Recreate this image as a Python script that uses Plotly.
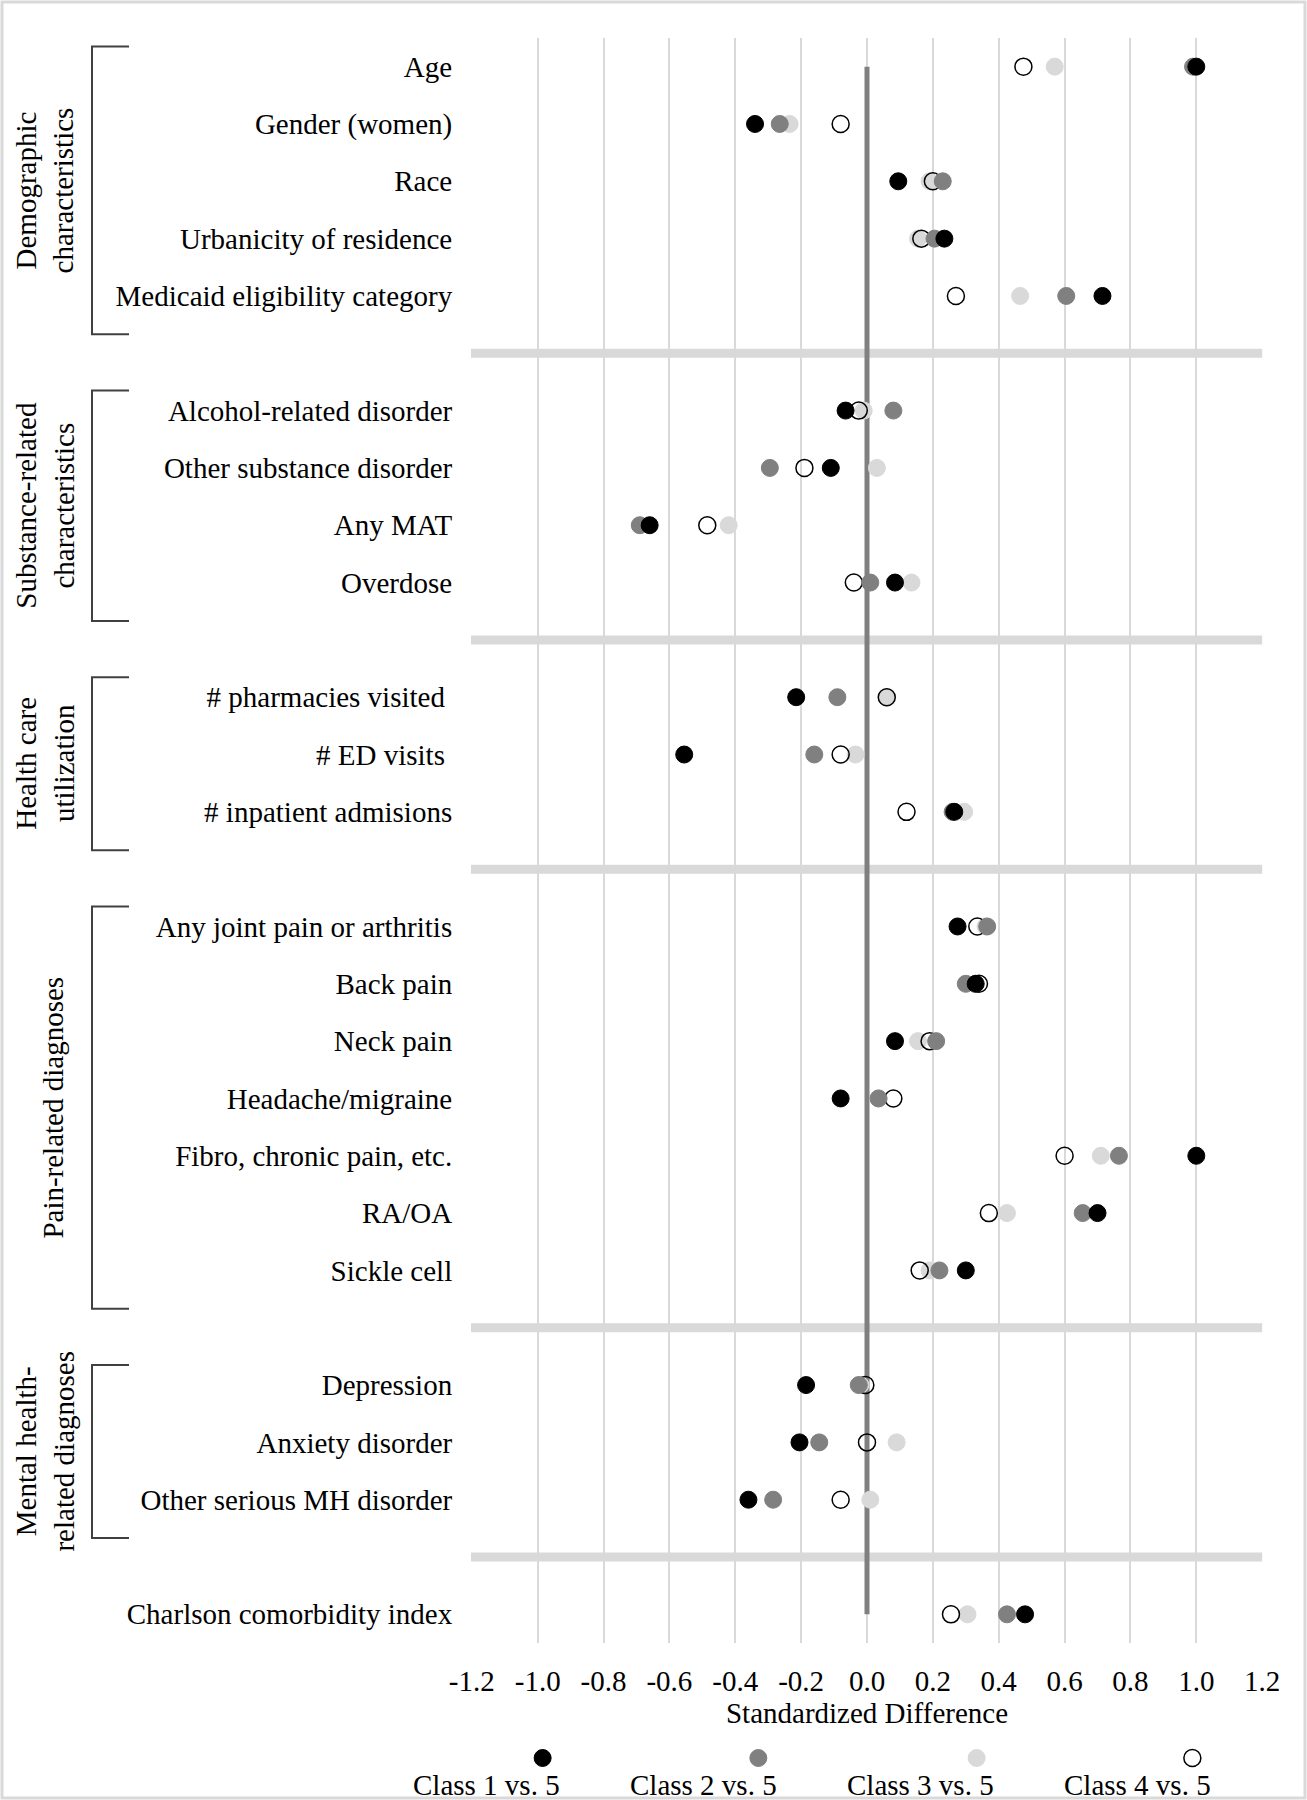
import plotly.graph_objects as go

# rows, grouped the way the figure groups them
demographic = ["Age", "Gender (women)", "Race", "Urbanicity of residence",
               "Medicaid eligibility category"]
substance = ["Alcohol-related disorder", "Other substance disorder", "Any MAT", "Overdose"]
utilization = ["# pharmacies visited\u00a0", "# ED visits\u00a0", "# inpatient admisions"]
pain = ["Any joint pain or arthritis", "Back pain", "Neck pain", "Headache/migraine",
        "Fibro, chronic pain, etc.", "RA/OA", "Sickle cell"]
mental = ["Depression", "Anxiety disorder", "Other serious MH disorder"]
other = ["Charlson comorbidity index"]

group_names = ["Demographic<br>characteristics", "Substance-related<br>characteristics",
               "Health care<br>utilization", "Pain-related diagnoses",
               "Mental health-<br>related diagnoses", None]

# standardized differences, one value per row (same order as above)
class1 = [1.00, -0.34, 0.095, 0.235, 0.715,
          -0.065, -0.11, -0.66, 0.085,
          -0.215, -0.555, 0.265,
          0.275, 0.33, 0.085, -0.08, 1.00, 0.70, 0.30,
          -0.185, -0.205, -0.36,
          0.48]
class2 = [0.99, -0.265, 0.23, 0.205, 0.605,
          0.08, -0.295, -0.69, 0.01,
          -0.09, -0.16, 0.26,
          0.365, 0.30, 0.21, 0.035, 0.765, 0.655, 0.22,
          -0.025, -0.145, -0.285,
          0.425]
class3 = [0.57, -0.235, 0.19, 0.155, 0.465,
          -0.01, 0.03, -0.42, 0.135,
          0.06, -0.035, 0.295,
          0.36, 0.33, 0.155, 0.035, 0.71, 0.425, 0.19,
          -0.02, 0.09, 0.01,
          0.305]
class4 = [0.475, -0.08, 0.20, 0.165, 0.27,
          -0.025, -0.19, -0.485, -0.04,
          0.06, -0.08, 0.12,
          0.335, 0.34, 0.19, 0.08, 0.60, 0.37, 0.16,
          -0.005, 0.0, -0.08,
          0.255]

series_names = ["Class 1 vs. 5", "Class 2 vs. 5", "Class 3 vs. 5", "Class 4 vs. 5"]
x_ticks = [-1.2, -1.0, -0.8, -0.6, -0.4, -0.2, 0.0, 0.2, 0.4, 0.6, 0.8, 1.0, 1.2]

# ---- row positions: one empty slot (separator) between groups
groups = [demographic, substance, utilization, pain, mental, other]
labels, rows, separators, spans = [], [], [], []
pos = 0
for gi, g in enumerate(groups):
    start = pos
    for name in g:
        labels.append(name)
        rows.append(pos)
        pos += 1
    spans.append((start, pos - 1))
    if gi < len(groups) - 1:
        separators.append(pos)
        pos += 1
n_slots = pos

FONT = "Liberation Serif"
FS = 29
W, H = 1307, 1800
L, R, T = 471, 44, 38
PLOT_BOTTOM = 1643
plot_w = W - L - R
plot_h = H - T
main_bottom = (H - PLOT_BOTTOM) / plot_h


def px_x(p):
    return (p - L) / plot_w


def px_y(p):
    return (H - p) / plot_h


fig = go.Figure()

# zero reference line
fig.add_trace(go.Scatter(
    x=[0, 0], y=[rows[0], rows[-1]], mode="lines",
    line=dict(color="#808080", width=5),
    showlegend=False, hoverinfo="skip",
))

styles = {
    "Class 1 vs. 5": dict(color="#000000", line=dict(color="#000000", width=1)),
    "Class 2 vs. 5": dict(color="#808080", line=dict(color="#808080", width=1)),
    "Class 3 vs. 5": dict(color="#d9d9d9", line=dict(color="#d9d9d9", width=1)),
    "Class 4 vs. 5": dict(color="rgba(0,0,0,0)", line=dict(color="#000000", width=1.5)),
}
values = dict(zip(series_names, [class1, class2, class3, class4]))

# draw order: class 3, class 4, class 2, class 1 (black on top)
for name in ["Class 3 vs. 5", "Class 4 vs. 5", "Class 2 vs. 5", "Class 1 vs. 5"]:
    fig.add_trace(go.Scatter(
        x=values[name], y=rows, mode="markers", name=name,
        marker=dict(size=17, **styles[name]),
        showlegend=False,
        hovertemplate=name + "<br>%{text}: %{x:.2f}<extra></extra>",
        text=labels,
    ))

# custom legend: marker above its label, in a strip under the plot
leg_x = [-0.985, -0.33, 0.333, 0.988]
leg_text_x = [-1.155, -0.497, 0.161, 0.821]
for i, name in enumerate(series_names):
    fig.add_trace(go.Scatter(
        x=[leg_x[i]], y=[(H - 1758) / (H - PLOT_BOTTOM)], mode="markers",
        marker=dict(size=17, **styles[name]),
        xaxis="x2", yaxis="y2", showlegend=False, hoverinfo="skip",
    ))
    fig.add_annotation(
        x=leg_text_x[i], y=(H - 1785) / (H - PLOT_BOTTOM), xref="x2", yref="y2",
        text=name, showarrow=False, xanchor="center", yanchor="middle",
        font=dict(family=FONT, size=FS, color="#000000"),
    )

shapes = []
# group separators
for s in separators:
    shapes.append(dict(type="line", xref="x", yref="y", x0=-1.21, x1=1.2, y0=s, y1=s,
                       line=dict(color="#d9d9d9", width=9), layer="between"))

# group brackets and rotated labels
bx0, bx1 = px_x(92), px_x(129)
for (a, b), gname in zip(spans, group_names):
    if gname is None:
        continue
    top, bot = a - 0.35, b + 0.67
    shapes.append(dict(
        type="path", xref="paper", yref="y",
        path=f"M {bx1},{top} L {bx0},{top} L {bx0},{bot} L {bx1},{bot}",
        line=dict(color="#404040", width=2),
    ))
    cx = 45 if "<br>" in gname else 53
    fig.add_annotation(
        x=px_x(cx), y=(top + bot) / 2, xref="paper", yref="y",
        text=gname, textangle=-90, showarrow=False,
        xanchor="center", yanchor="middle",
        font=dict(family=FONT, size=FS, color="#000000"),
    )

# thin frame round the whole picture
shapes.append(dict(type="rect", xref="paper", yref="paper",
                   x0=px_x(2), x1=px_x(1305), y0=px_y(1798), y1=px_y(2),
                   line=dict(color="#d9d9d9", width=3), layer="below"))

fig.update_layout(
    width=W, height=H,
    margin=dict(l=L, r=R, t=T, b=0),
    paper_bgcolor="white", plot_bgcolor="white",
    font=dict(family=FONT, size=FS, color="#000000"),
    shapes=shapes,
    xaxis=dict(
        range=[-1.2025, 1.2025], tickvals=x_ticks,
        ticktext=[f"{v:.1f}" for v in x_ticks],
        showgrid=True, gridcolor="#d9d9d9", gridwidth=2,
        zeroline=False, showline=False,
        ticks="outside", ticklen=12, tickcolor="rgba(0,0,0,0)",
        tickfont=dict(family=FONT, size=FS, color="#000000"),
        title=dict(text="Standardized Difference", standoff=2,
                   font=dict(family=FONT, size=FS, color="#000000")),
        anchor="y",
    ),
    yaxis=dict(
        range=[n_slots - 0.5, -0.5], domain=[main_bottom, 1],
        tickvals=rows, ticktext=labels,
        showgrid=False, zeroline=False, showline=False,
        ticks="outside", ticklen=12, tickcolor="rgba(0,0,0,0)",
        tickfont=dict(family=FONT, size=FS, color="#000000"),
    ),
    xaxis2=dict(range=[-1.2025, 1.2025], domain=[0, 1], anchor="y2", visible=False),
    yaxis2=dict(range=[0, 1], domain=[0, main_bottom], anchor="x2", visible=False),
    hovermode="closest",
)

# the page's default body margin would push the figure 8px down and right
fig.write_html("out.html",
               config={"displayModeBar": False},
               post_script="document.body.style.margin='0';"
                           "document.body.style.overflow='hidden';")
